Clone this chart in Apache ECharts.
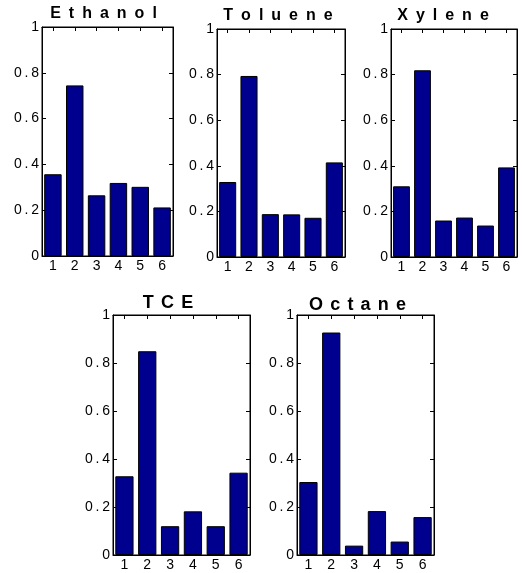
<!DOCTYPE html>
<html>
<head>
<meta charset="utf-8">
<script src="https://cdn.jsdelivr.net/npm/echarts@6/dist/echarts.min.js"></script>
<style>html,body{margin:0;padding:0;background:#fff}#c{width:522px;height:573px}</style>
</head>
<body>
<div id="c"></div>
<script>
const categories = ['1', '2', '3', '4', '5', '6'];
const titles = ['Ethanol', 'Toluene', 'Xylene', 'TCE', 'Octane'];
const ethanol = [0.357, 0.745, 0.265, 0.319, 0.302, 0.212];
const toluene = [0.329, 0.794, 0.188, 0.187, 0.172, 0.415];
const xylene  = [0.310, 0.819, 0.160, 0.173, 0.138, 0.393];
const tce     = [0.328, 0.849, 0.120, 0.182, 0.120, 0.343];
const octane  = [0.304, 0.927, 0.039, 0.183, 0.056, 0.158];
const yMin = 0, yMax = 1, yStep = 0.2;

const seriesData = [ethanol, toluene, xylene, tce, octane];
const panels = [
  {left: 42, top: 27, width: 131, height: 229, tx: 103.5, ty: 14, tsize: 16, gap: '\u2002'},
  {left: 217, top: 29, width: 128, height: 228, tx: 278, ty: 16, tsize: 16, gap: '\u2002'},
  {left: 391, top: 29, width: 126, height: 228, tx: 443, ty: 16, tsize: 16, gap: '\u2002'},
  {left: 113, top: 315, width: 137, height: 240, tx: 168, ty: 303, tsize: 18, gap: '\u2009\u2009'},
  {left: 297, top: 315, width: 137, height: 240, tx: 357.5, ty: 305, tsize: 18, gap: '\u2009\u2009'}
];
const FONT = '"Liberation Sans", Arial, sans-serif';
const lineStyle = {color: '#000', width: 1};

const grid = [], xAxis = [], yAxis = [], series = [], graphic = [];
panels.forEach((p, i) => {
  grid.push({left: p.left, top: p.top, width: p.width, height: p.height, containLabel: false,
             show: true, borderColor: '#000', borderWidth: 1, backgroundColor: 'transparent'});
  xAxis.push({
    type: 'category', data: categories, gridIndex: i, position: 'bottom',
    axisLine: {show: true, onZero: false, lineStyle}, axisTick: {show: true, inside: true, length: 4, alignWithLabel: true, lineStyle},
    axisLabel: {color: '#000', fontSize: 14, fontFamily: FONT, margin: 3}, splitLine: {show: false}
  });
  xAxis.push({
    type: 'category', data: categories, gridIndex: i, position: 'top',
    axisLine: {show: true, onZero: false, lineStyle}, axisTick: {show: true, inside: true, length: 4, alignWithLabel: true, lineStyle},
    axisLabel: {show: false}, splitLine: {show: false}
  });
  const fmt = v => { const s = String(Math.round(v * 10) / 10); return s.split('').join('\u2009'); };
  yAxis.push({
    type: 'value', gridIndex: i, position: 'left', min: yMin, max: yMax, interval: yStep,
    axisLine: {show: true, onZero: false, lineStyle}, axisTick: {show: true, inside: true, length: 4, lineStyle},
    axisLabel: {color: '#000', fontSize: 14, fontFamily: FONT, margin: 3, formatter: fmt}, splitLine: {show: false}
  });
  yAxis.push({
    type: 'value', gridIndex: i, position: 'right', min: yMin, max: yMax, interval: yStep,
    axisLine: {show: true, onZero: false, lineStyle}, axisTick: {show: true, inside: true, length: 4, lineStyle},
    axisLabel: {show: false}, splitLine: {show: false}
  });
  series.push({
    type: 'bar', xAxisIndex: i * 2, yAxisIndex: i * 2, data: seriesData[i],
    barWidth: '80%', itemStyle: {color: '#00008F', borderColor: '#000', borderWidth: 1},
    silent: true, animation: false
  });
  series.push({
    type: 'line', xAxisIndex: i * 2 + 1, yAxisIndex: i * 2 + 1, data: [],
    silent: true, animation: false, showSymbol: false
  });
  graphic.push({
    type: 'text', x: p.tx, y: p.ty,
    style: {text: titles[i].split('').join(p.gap), font: 'bold ' + p.tsize + 'px ' + FONT, fill: '#000',
            align: 'center', verticalAlign: 'middle', textAlign: 'center', textVerticalAlign: 'middle'}
  });
});

const chart = echarts.init(document.getElementById('c'), null, {renderer: 'canvas'});
chart.setOption({backgroundColor: '#fff', animation: false, grid, xAxis, yAxis, series, graphic});
</script>
</body>
</html>
